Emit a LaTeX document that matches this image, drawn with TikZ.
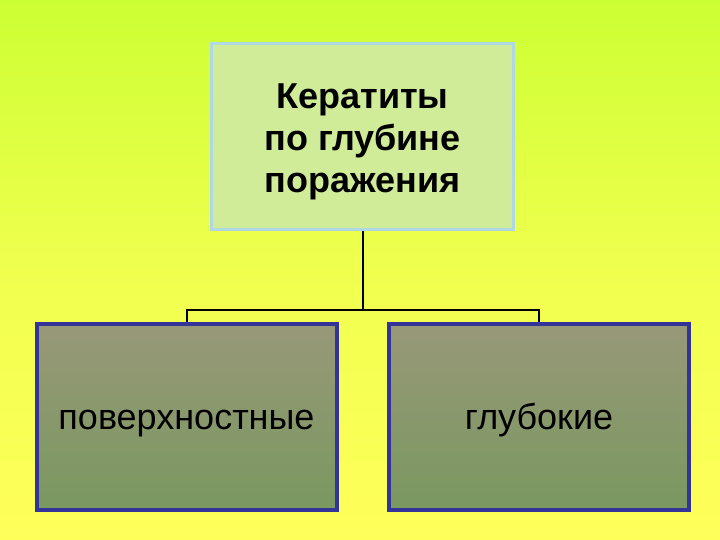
\documentclass[tikz,border=0pt]{standalone}
\usepackage{fontspec}
\setmainfont{Liberation Sans}
\definecolor{bgtop}{RGB}{204,255,51}
\definecolor{bgbot}{RGB}{255,255,90}
\definecolor{topfill}{RGB}{208,236,152}
\definecolor{topedge}{RGB}{176,216,228}
\definecolor{lowtop}{RGB}{152,152,120}
\definecolor{lowbot}{RGB}{122,152,96}
\definecolor{lowedge}{RGB}{51,51,153}
\begin{document}
\begin{tikzpicture}[x=1pt,y=-1pt,
  topbox/.style={draw=topedge,line width=3pt,fill=topfill,minimum width=302pt,minimum height=186pt,inner sep=0pt},
  toptext/.style={align=center,font=\fontsize{36}{42}\selectfont\bfseries,inner sep=0pt},
  lowbox/.style={draw=lowedge,line width=4pt,top color=lowtop,bottom color=lowbot,minimum width=300pt,minimum height=186pt,inner sep=0pt},
  lowtext/.style={font=\fontsize{36}{40}\selectfont,inner sep=0pt,anchor=base},
  link/.style={draw=black,line width=2pt}]
\useasboundingbox (0,0) rectangle (720,540);
\shade[top color=bgtop,bottom color=bgbot,middle color=bgbot!70!bgtop] (0,0) rectangle (720,540);
\node[topbox] (top) at (362.5,136.5) {};
\node[toptext] (toplabel) at (362.5,142) {Кератиты\\по глубине\\поражения};
\node[lowbox] (left) at (186.5,416.5) {};
\node[lowbox] (right) at (539,416.5) {};
\node[lowtext] (lefttext) at (186.5,429) {поверхностные};
\node[lowtext] (righttext) at (539,429) {глубокие};
\coordinate (mid) at (362.5,310);
\draw[link] (top.south) -- (mid);
\draw[link] (left.north) -- (left.north |- mid) -- (right.north |- mid) -- (right.north);
\end{tikzpicture}
\end{document}
